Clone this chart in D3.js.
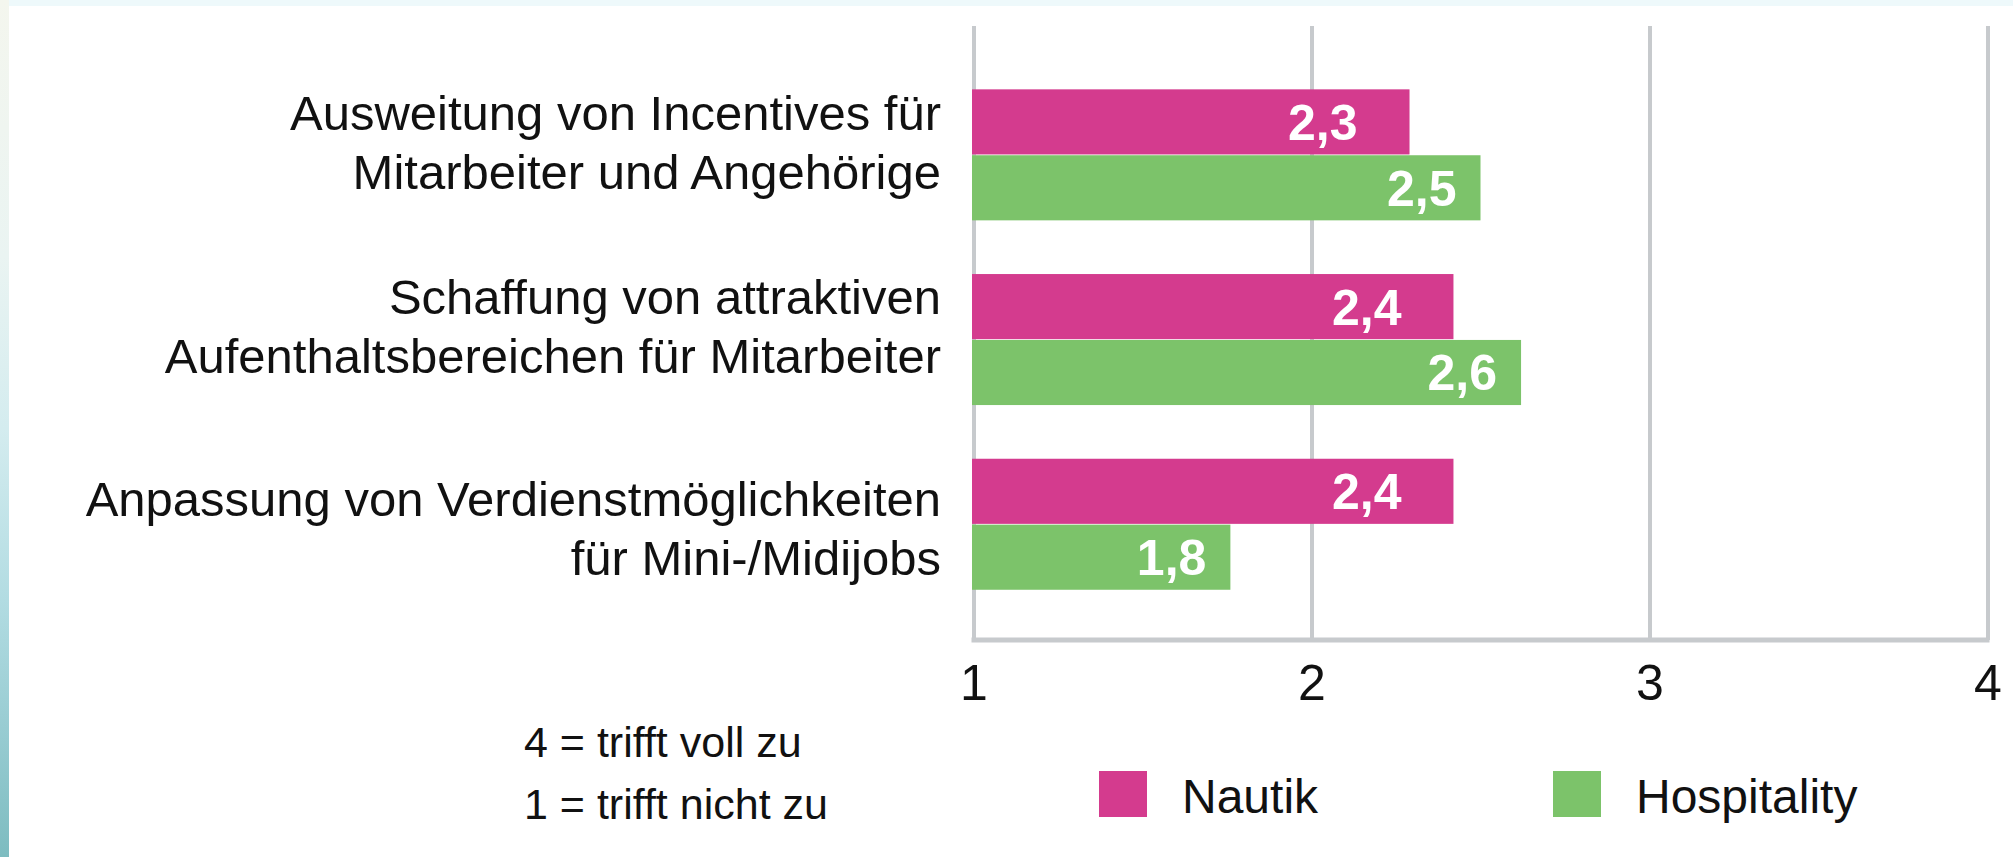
<!DOCTYPE html>
<html>
<head>
<meta charset="utf-8">
<script src="https://cdn.jsdelivr.net/npm/d3@7"></script>
<style>
  html, body { margin: 0; padding: 0; background: #ffffff; overflow: hidden; }
  svg { display: block; font-family: "Liberation Sans", Arial, sans-serif; }
</style>
</head>
<body>
<svg id="chart" width="2013" height="857"></svg>
<script>
// ---- data ----
const categories = [
  ["Ausweitung von Incentives für", "Mitarbeiter und Angehörige"],
  ["Schaffung von attraktiven", "Aufenthaltsbereichen für Mitarbeiter"],
  ["Anpassung von Verdienstmöglichkeiten", "für Mini-/Midijobs"]
];
const seriesNames = ["Nautik", "Hospitality"];
const nautikValues = [2.29, 2.42, 2.42];
const hospitalityValues = [2.50, 2.62, 1.76];
const tickValues = [1, 2, 3, 4];
const scaleNotes = ["4 = trifft voll zu", "1 = trifft nicht zu"];

// ---- layout / style ----
const colors = { "Nautik": "#d43b8e", "Hospitality": "#7cc36a" };
const labelInset = { "Nautik": 52, "Hospitality": 24 };
const catLabelDy = [-25, -26, -8];
const gridColor = "#c7cacd";

const svg = d3.select("#chart");

// background decoration (page frame)
const defs = svg.append("defs");
const grad = defs.append("linearGradient").attr("id", "sea").attr("x1", 0).attr("y1", 0).attr("x2", 0).attr("y2", 1);
[["0%", "#f4f6ee"], ["30%", "#eaf4f2"], ["50%", "#d4ecef"], ["70%", "#b2dce2"], ["85%", "#98ccd2"], ["100%", "#7dbcc0"]]
  .forEach(([o, c]) => grad.append("stop").attr("offset", o).attr("stop-color", c));
svg.append("rect").attr("x", 0).attr("y", 0).attr("width", 2013).attr("height", 6).attr("fill", "#eef9fb");
svg.append("rect").attr("x", 0).attr("y", 0).attr("width", 9).attr("height", 857).attr("fill", "url(#sea)");

const rows = categories.map((c, i) => ({
  key: c.join(" "),
  lines: c,
  values: [
    { series: "Nautik", value: nautikValues[i] },
    { series: "Hospitality", value: hospitalityValues[i] }
  ]
}));

const plotTop = 26, plotBottom = 640;
const x = d3.scaleLinear().domain([1, 4]).range([973.5, 1987.5]);
const y0 = d3.scaleBand().domain(rows.map(r => r.key)).range([52.4, 626.7]).paddingInner(0.2907).paddingOuter(0.2);
const y1 = d3.scaleBand().domain(seriesNames).range([0, y0.bandwidth()]).paddingInner(0.012);

// gridlines
const grid = svg.append("g").attr("transform", `translate(0,${plotBottom})`)
  .call(d3.axisBottom(x).tickValues(tickValues).tickSize(-(plotBottom - plotTop)).tickSizeOuter(0).tickFormat(""));
grid.select(".domain").remove();
grid.selectAll("line").attr("stroke", gridColor).attr("stroke-width", 4);

// bars
const groups = svg.append("g").selectAll("g").data(rows).join("g")
  .attr("transform", d => `translate(0,${y0(d.key)})`);

groups.selectAll("rect").data(d => d.values).join("rect")
  .attr("x", x(1) - 1.5)
  .attr("y", d => y1(d.series))
  .attr("width", d => x(d.value) - x(1) + 1.5)
  .attr("height", y1.bandwidth())
  .attr("fill", d => colors[d.series]);

const fmt = v => d3.format(".1f")(v).replace(".", ",");
groups.selectAll("text").data(d => d.values).join("text")
  .attr("x", d => x(d.value) - labelInset[d.series])
  .attr("y", d => y1(d.series) + y1.bandwidth() / 2)
  .attr("dy", "0.36em")
  .attr("text-anchor", "end")
  .attr("fill", "#ffffff")
  .attr("font-weight", "bold")
  .attr("font-size", 50)
  .text(d => fmt(d.value));

// x axis
const xAxis = svg.append("g").attr("transform", `translate(0,${plotBottom})`)
  .call(d3.axisBottom(x).tickValues(tickValues).tickSize(0).tickSizeOuter(0).tickPadding(24).tickFormat(d3.format("d")));
xAxis.select(".domain").attr("stroke", gridColor).attr("stroke-width", 5)
  .attr("d", `M${x(1) - 2},0H${x(4) + 2}`);
xAxis.selectAll("text").attr("font-size", 50).attr("fill", "#111").attr("font-family", "'Liberation Sans', Arial, sans-serif")
  .attr("dy", "0.72em");

// category labels
const catG = svg.append("g");
rows.forEach((r, i) => {
  const cy = y0(r.key) + y0.bandwidth() / 2 + catLabelDy[i];
  const t = catG.append("text").attr("text-anchor", "end").attr("font-size", 49).attr("fill", "#111");
  r.lines.forEach((ln, j) => {
    t.append("tspan").attr("x", 941).attr("y", cy + j * 59).text(ln);
  });
});

// scale notes
svg.append("g").selectAll("text").data(scaleNotes).join("text")
  .attr("x", 524)
  .attr("y", (d, i) => 757 + i * 62)
  .attr("font-size", 43)
  .attr("fill", "#111")
  .text(d => d);

// legend
const legendX = { "Nautik": 1099, "Hospitality": 1553 };
const leg = svg.append("g").selectAll("g").data(seriesNames).join("g")
  .attr("transform", d => `translate(${legendX[d]},771)`);
leg.append("rect").attr("width", 48).attr("height", 46).attr("fill", d => colors[d]);
leg.append("text").attr("x", 83).attr("y", 42).attr("font-size", 48).attr("fill", "#111").text(d => d);
</script>
</body>
</html>
